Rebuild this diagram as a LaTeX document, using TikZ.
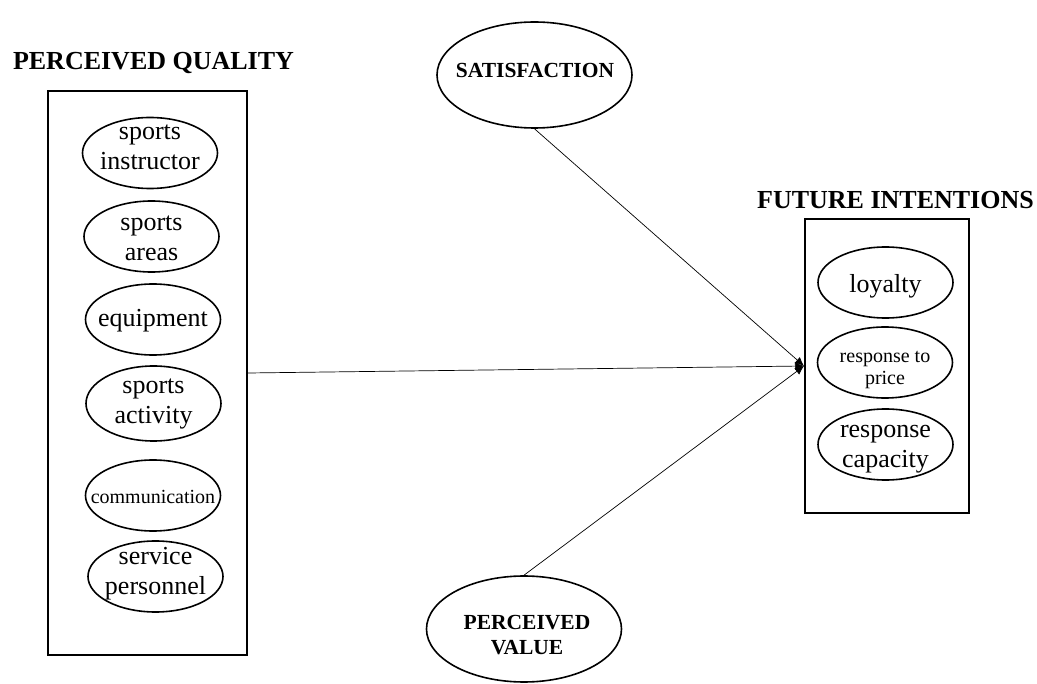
\documentclass[tikz,border=0pt]{standalone}
\usepackage{fontspec}
\setmainfont{Liberation Serif}
\usetikzlibrary{shapes.geometric,arrows.meta}
\begin{document}
\begin{tikzpicture}[x=1pt,y=-1pt,
 box/.style={draw,line width=2pt,inner sep=0},
 item/.style={draw,ellipse,line width=1.6pt,minimum width=135pt,minimum height=71pt,inner sep=0},
 itemtext/.style={inner sep=0,align=center,font=\fontsize{26}{30}\selectfont},
 smalltext/.style={inner sep=0,align=center,font=\fontsize{20}{22}\selectfont},
 big/.style={draw,ellipse,line width=1.6pt,minimum width=195pt,minimum height=106pt,inner sep=0},
 bigtext/.style={inner sep=0,align=center,font=\bfseries\fontsize{21.5}{25}\selectfont},
 title/.style={font=\bfseries\fontsize{26}{30}\selectfont,inner sep=0,anchor=base},
 link/.style={line width=0.7pt,-{Latex[length=9pt,width=8pt]}}]
\useasboundingbox (0,0) rectangle (1037,684);
% Perceived quality
\node[title] (pqt) at (153.5,70) {PERCEIVED QUALITY};
\node[box,minimum width=199pt,minimum height=564pt] (pq) at (147.5,373) {};
\node[item] (e1) at (150,153) {};
\node[itemtext] (e1t) at (150,147.5) {sports\\instructor};
\node[item] (e2) at (151.5,236.5) {};
\node[itemtext] (e2t) at (151.5,238) {sports\\areas};
\node[item] (e3) at (153,319.5) {};
\node[itemtext] (e3t) at (153,321) {equipment};
\node[item,minimum height=75pt] (e4) at (153.5,403.5) {};
\node[itemtext] (e4t) at (153.5,403.5) {sports\\activity};
\node[item] (e5) at (153,495.5) {};
\node[smalltext] (e5t) at (153,497) {communication};
\node[item] (e6) at (155.5,576.5) {};
\node[itemtext] (e6t) at (155.5,574) {service\\personnel};
% Future intentions
\node[title] (fit) at (895.5,209) {FUTURE INTENTIONS};
\node[box,minimum width=164pt,minimum height=294pt] (fi) at (887,366) {};
\node[item] (f1) at (885.5,282.5) {};
\node[itemtext] (f1t) at (885.5,286) {loyalty};
\node[item] (f2) at (885,362.5) {};
\node[smalltext] (f2t) at (885,370) {response to\\price};
\node[item] (f3) at (885.5,444.5) {};
\node[itemtext] (f3t) at (885.5,449) {response\\capacity};
% Satisfaction and value
\node[big] (sat) at (534.5,75) {};
\node[bigtext] (satt) at (535,70) {SATISFACTION};
\node[big] (pv) at (524,629) {};
\node[bigtext] (pvt) at (527,635.5) {PERCEIVED\\VALUE};
% connectors
\draw[link] (sat.south) -- (fi.west);
\draw[link] (pq.east) -- (fi.west);
\draw[link] (pv.north) -- (fi.west);
\end{tikzpicture}
\end{document}
